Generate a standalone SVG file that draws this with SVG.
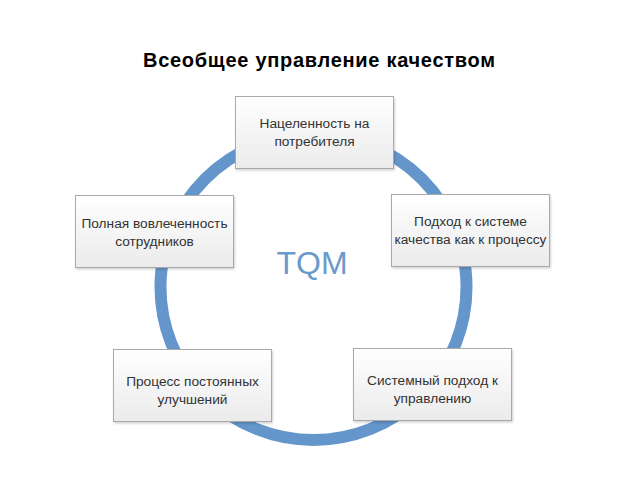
<svg xmlns="http://www.w3.org/2000/svg" width="638" height="479" viewBox="0 0 638 479">
<defs>
<linearGradient id="g" x1="0" y1="0" x2="0" y2="1">
<stop offset="0" stop-color="#ffffff"/>
<stop offset="1" stop-color="#ebebeb"/>
</linearGradient>
<filter id="sh" x="-10%" y="-10%" width="125%" height="130%">
<feDropShadow dx="1" dy="1.5" stdDeviation="1.2" flood-color="#000" flood-opacity="0.18"/>
</filter>
</defs>
<style>
.box{fill:url(#g);stroke:#a9a9a9;stroke-width:1;filter:url(#sh)}
.t{font-family:"Liberation Sans",Arial,sans-serif;font-size:13.7px;fill:#333333;text-anchor:middle}
.title{font-family:"Liberation Sans",Arial,sans-serif;font-size:20px;font-weight:bold;fill:#000;text-anchor:middle}
.tqm{font-family:"Liberation Sans",Arial,sans-serif;font-size:32px;fill:#6a9acb;text-anchor:middle}
</style>
<rect width="638" height="479" fill="#ffffff"/>
<text class="title" x="319" y="67" textLength="352" lengthAdjust="spacing">Всеобщее управление качеством</text>
<g id="connectors">
<circle cx="313.5" cy="287" r="153" fill="none" stroke="#6496cb" stroke-width="12"/>
</g>
<text class="tqm" x="312" y="274">TQM</text>
<g id="n1">
<rect class="box" x="235.5" y="96.5" width="158" height="72"/>
<text class="t" x="314.5" y="128">Нацеленность на</text>
<text class="t" x="314.5" y="146">потребителя</text>
</g>
<g id="n2">
<rect class="box" x="391.5" y="194.5" width="158" height="72"/>
<text class="t" x="470.5" y="226">Подход к системе</text>
<text class="t" x="470.5" y="244">качества как к процессу</text>
</g>
<g id="n3">
<rect class="box" x="353.5" y="348.5" width="158" height="72"/>
<text class="t" x="432.5" y="385">Системный подход к</text>
<text class="t" x="432.5" y="403">управлению</text>
</g>
<g id="n4">
<rect class="box" x="113.5" y="349.5" width="158" height="72"/>
<text class="t" x="192.5" y="386">Процесс постоянных</text>
<text class="t" x="192.5" y="404">улучшений</text>
</g>
<g id="n5">
<rect class="box" x="75.5" y="195.5" width="158" height="72"/>
<text class="t" x="154.5" y="228">Полная вовлеченность</text>
<text class="t" x="154.5" y="246">сотрудников</text>
</g>
</svg>
